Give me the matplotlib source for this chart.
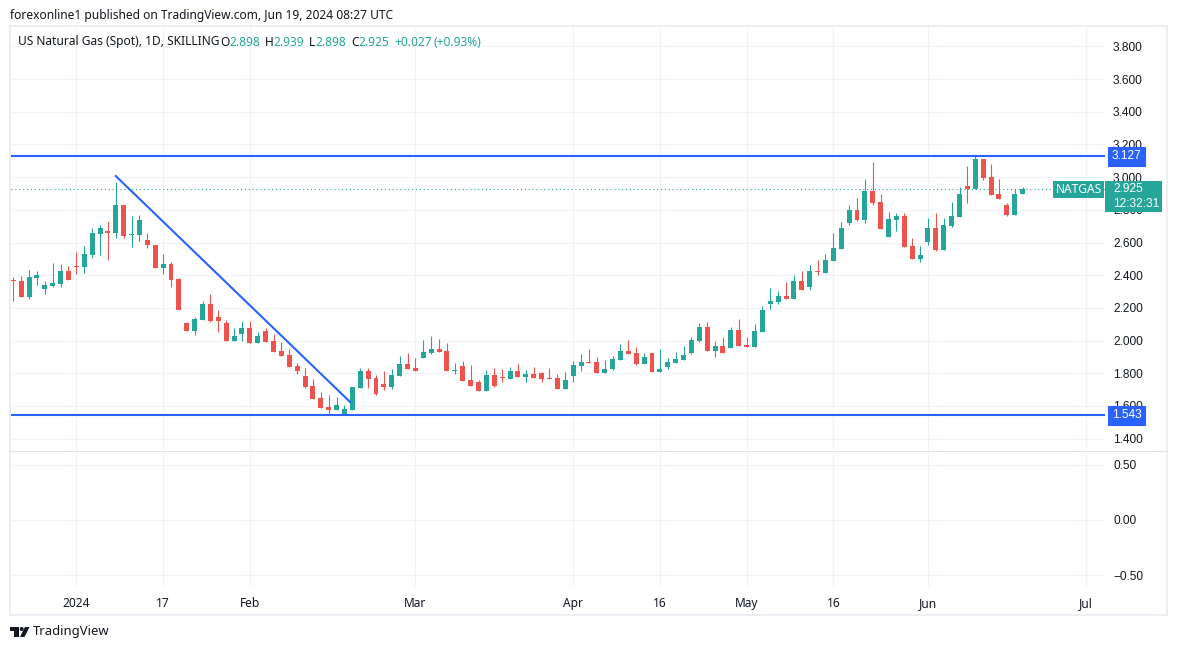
import matplotlib
matplotlib.use('Agg')
import matplotlib.pyplot as plt
from matplotlib.patches import Rectangle, Polygon, Circle
from matplotlib.transforms import Affine2D

# daily candles
opens = [2.372, 2.365, 2.267, 2.384, 2.316, 2.335, 2.347, 2.427, 2.457, 2.451,
         2.525, 2.653, 2.672, 2.659, 2.831, 2.647, 2.647, 2.616, 2.586, 2.445,
         2.469, 2.378, 2.108, 2.059, 2.127, 2.225, 2.145, 2.108, 2.000, 2.043,
         2.080, 1.988, 2.061, 2.000, 1.939, 1.914, 1.847, 1.786, 1.724, 1.651,
         1.596, 1.578, 1.547, 1.578, 1.712, 1.816, 1.773, 1.737, 1.718, 1.786,
         1.859, 1.835, 1.896, 1.927, 1.951, 1.939, 1.816, 1.847, 1.761, 1.749,
         1.694, 1.792, 1.780, 1.767, 1.816, 1.780, 1.798, 1.804, 1.773, 1.773,
         1.706, 1.786, 1.847, 1.871, 1.871, 1.804, 1.829, 1.884, 1.939, 1.927,
         1.859, 1.927, 1.810, 1.841, 1.865, 1.884, 1.927, 2.000, 2.086, 1.939,
         1.969, 1.957, 2.067, 1.975, 1.963, 2.055, 2.226, 2.239, 2.275, 2.257,
         2.367, 2.330, 2.428, 2.416, 2.490, 2.563, 2.718, 2.798, 2.737, 2.914,
         2.847, 2.633, 2.737, 2.761, 2.577, 2.498, 2.602, 2.688, 2.553, 2.700,
         2.755, 2.945, 2.927, 3.110, 3.000, 2.896, 2.829, 2.767, 2.898]
highs = [2.388, 2.396, 2.433, 2.427, 2.365, 2.476, 2.469, 2.457, 2.543, 2.580,
         2.690, 2.708, 2.733, 2.972, 2.831, 2.763, 2.769, 2.659, 2.586, 2.531,
         2.482, 2.384, 2.114, 2.145, 2.243, 2.286, 2.188, 2.127, 2.078, 2.122,
         2.122, 2.055, 2.080, 2.043, 1.994, 1.951, 1.865, 1.835, 1.767, 1.688,
         1.669, 1.657, 1.608, 1.718, 1.835, 1.835, 1.792, 1.816, 1.829, 1.908,
         1.927, 1.896, 2.006, 2.031, 2.012, 1.988, 1.865, 1.878, 1.853, 1.761,
         1.822, 1.835, 1.829, 1.841, 1.859, 1.822, 1.841, 1.810, 1.835, 1.798,
         1.810, 1.878, 1.920, 1.951, 1.902, 1.884, 1.908, 1.982, 2.006, 1.963,
         1.927, 1.927, 1.951, 1.896, 1.933, 1.969, 2.024, 2.110, 2.116, 2.000,
         2.024, 2.086, 2.134, 2.024, 2.104, 2.214, 2.324, 2.306, 2.361, 2.404,
         2.428, 2.465, 2.496, 2.532, 2.661, 2.728, 2.829, 2.871, 2.988, 3.092,
         2.896, 2.786, 2.780, 2.780, 2.626, 2.577, 2.749, 2.780, 2.749, 2.847,
         2.939, 3.067, 3.130, 3.110, 3.080, 2.988, 2.841, 2.926, 2.939]
lows = [2.245, 2.267, 2.255, 2.341, 2.286, 2.329, 2.329, 2.372, 2.408, 2.414,
        2.506, 2.525, 2.494, 2.629, 2.629, 2.574, 2.610, 2.567, 2.445, 2.408,
        2.329, 2.188, 2.059, 2.035, 2.127, 2.114, 2.053, 2.000, 2.000, 2.000,
        1.988, 1.988, 1.994, 1.933, 1.908, 1.841, 1.798, 1.712, 1.645, 1.590,
        1.547, 1.578, 1.547, 1.578, 1.712, 1.712, 1.669, 1.700, 1.706, 1.786,
        1.829, 1.816, 1.896, 1.920, 1.933, 1.816, 1.798, 1.755, 1.724, 1.694,
        1.694, 1.718, 1.749, 1.767, 1.780, 1.749, 1.773, 1.749, 1.767, 1.706,
        1.706, 1.749, 1.816, 1.865, 1.804, 1.804, 1.822, 1.884, 1.920, 1.853,
        1.859, 1.810, 1.810, 1.829, 1.865, 1.884, 1.920, 1.994, 1.939, 1.902,
        1.926, 1.957, 1.969, 1.963, 1.963, 2.055, 2.196, 2.226, 2.257, 2.257,
        2.312, 2.312, 2.404, 2.416, 2.490, 2.563, 2.706, 2.731, 2.718, 2.829,
        2.682, 2.633, 2.669, 2.571, 2.498, 2.480, 2.584, 2.547, 2.553, 2.694,
        2.755, 2.841, 2.925, 2.982, 2.890, 2.865, 2.761, 2.767, 2.898]
closes = [2.365, 2.267, 2.390, 2.402, 2.341, 2.353, 2.427, 2.372, 2.451, 2.531,
          2.659, 2.690, 2.659, 2.831, 2.641, 2.653, 2.739, 2.586, 2.445, 2.469,
          2.372, 2.188, 2.059, 2.133, 2.225, 2.120, 2.120, 2.000, 2.029, 2.080,
          1.988, 2.031, 1.994, 1.933, 1.908, 1.841, 1.816, 1.718, 1.645, 1.590,
          1.578, 1.608, 1.584, 1.718, 1.816, 1.767, 1.676, 1.718, 1.792, 1.859,
          1.829, 1.816, 1.933, 1.951, 1.933, 1.816, 1.822, 1.755, 1.724, 1.694,
          1.792, 1.724, 1.773, 1.816, 1.780, 1.798, 1.773, 1.767, 1.767, 1.706,
          1.761, 1.853, 1.871, 1.865, 1.804, 1.829, 1.890, 1.939, 1.920, 1.859,
          1.902, 1.810, 1.829, 1.871, 1.890, 1.914, 2.006, 2.086, 1.939, 1.969,
          1.926, 2.067, 1.969, 1.963, 2.061, 2.190, 2.245, 2.275, 2.257, 2.367,
          2.312, 2.428, 2.422, 2.496, 2.569, 2.692, 2.798, 2.737, 2.914, 2.841,
          2.682, 2.743, 2.761, 2.571, 2.498, 2.522, 2.688, 2.553, 2.706, 2.761,
          2.896, 2.927, 3.110, 2.994, 2.890, 2.865, 2.767, 2.896, 2.925]

support = 1.543
resistance = 3.127
last_price = 2.925
trend_x = [13, 42.7]
trend_y = [3.007, 1.625]

price_ticks = [1.4, 1.6, 1.8, 2.0, 2.2, 2.4, 2.6, 2.8, 3.0, 3.2, 3.4, 3.6, 3.8]
osc_ticks = [-0.5, 0.0, 0.5]
osc_labels = ['\u22120.50', '0.00', '0.50']
date_ticks = [8, 19, 30, 51, 71, 82, 93, 104, 116, 136]
date_labels = ['2024', '17', 'Feb', 'Mar', 'Apr', '16', 'May', '16', 'Jun', 'Jul']

UP = '#26a69a'
DOWN = '#ef5350'
BLUE = '#2962ff'
INK = '#131722'
GRID = '#f0f3fa'
W, H = 1177, 650
TEXT_FONT = 'Noto Sans'
NUM_FONT = 'Liberation Sans'
FS = 8.6

fig = plt.figure(figsize=(W / 100, H / 100), dpi=100, facecolor='white')
# overlays are placed in screen pixels, y going down
px = Affine2D().scale(1 / W, -1 / H).translate(0, 1) + fig.transFigure


def pane(top, bottom):
    return fig.add_axes([11 / W, 1 - bottom / H, (1105 - 11) / W, (bottom - top) / H])


ax = pane(27, 450)
ax2 = pane(451, 587)

n = len(closes)
for a in (ax, ax2):
    a.set_xlim(-0.29, 138.45)
    a.yaxis.tick_right()
    a.grid(True, color=GRID, lw=0.8)
    a.set_axisbelow(True)
    a.tick_params(length=0, labelsize=FS, labelcolor=INK, pad=5.8)
    a.set_xticks(date_ticks)
    for s in a.spines.values():
        s.set_visible(False)

ax.set_ylim(1.3305, 3.919)
ax.set_yticks(price_ticks)
ax.set_yticklabels(['%.3f' % p for p in price_ticks], family=NUM_FONT)
ax.tick_params(axis='x', labelbottom=False)

ax2.set_ylim(-0.609, 0.627)
ax2.set_yticks(osc_ticks)
ax2.set_yticklabels(osc_labels, family=NUM_FONT)
ax2.set_xticklabels(date_labels, family=TEXT_FONT)
ax2.tick_params(axis='x', pad=7)
ax2.get_xticklabels()[0].set_fontweight('bold')

# candles
for i in range(n):
    col = UP if closes[i] >= opens[i] else DOWN
    ax.vlines(i, lows[i], highs[i], color=col, lw=0.8, zorder=3)
    lo = min(opens[i], closes[i])
    ax.bar(i, max(abs(closes[i] - opens[i]), 0.006), bottom=lo, width=0.63, color=col, lw=0, zorder=3)

ax.axhline(last_price, color=UP, lw=0.8, ls=(0, (1, 2.5)), zorder=2)
ax.axhline(resistance, color=BLUE, lw=1.5, zorder=4)
ax.axhline(support, color=BLUE, lw=1.5, zorder=4)
ax.plot(trend_x, trend_y, color=BLUE, lw=1.5, zorder=4)

# price tags on the right scale
for level in (resistance, support):
    ax.annotate('%.3f' % level, xy=(1, level), xycoords=ax.get_yaxis_transform(),
                xytext=(7, 0), textcoords='offset pixels', color='white', va='center',
                family=NUM_FONT, fontsize=FS, annotation_clip=False, zorder=6,
                bbox=dict(boxstyle='square,pad=0.3', fc=BLUE, ec=BLUE, lw=0.8))

fig.add_artist(Rectangle((1105, 181), 57, 31, transform=px, fc=UP, ec='none', zorder=5))
fig.add_artist(Rectangle((1053, 181), 51, 17, transform=px, fc=UP, ec='none', zorder=5))
fig.text(1113, 189.5, '%.3f' % last_price, transform=px, color='white', family=NUM_FONT,
         fontsize=FS, va='center', zorder=6)
fig.text(1113, 204, '12:32:31', transform=px, color='white', family=NUM_FONT,
         fontsize=FS, va='center', zorder=6)
fig.text(1078.5, 189.5, 'NATGAS', transform=px, color='white', family=TEXT_FONT,
         fontsize=FS, va='center', ha='center', zorder=6)

# outer frame and pane separator
fig.add_artist(Rectangle((10, 26), 1157, 589, transform=px, fc='none', ec='#eceef4', lw=1.4, zorder=3))
fig.add_artist(plt.Line2D([10, 1167], [450.5, 450.5], transform=px, color='#e0e3eb', lw=0.8, zorder=3))

# header and legend
fig.text(10, 15, 'forexonline1 published on TradingView.com, Jun 19, 2024 08:27 UTC',
         transform=px, color=INK, family=TEXT_FONT, fontsize=FS, va='center')
fig.text(18, 42, 'US Natural Gas (Spot), 1D, SKILLING', transform=px, color=INK,
         family=TEXT_FONT, fontsize=FS, va='center')
for x, txt, col in [(220, 'O', INK), (229, '2.898', UP), (265, 'H', INK), (273, '2.939', UP),
                    (309, 'L', INK), (315, '2.898', UP), (351, 'C', INK), (358, '2.925', UP),
                    (394, '+0.027', UP), (433, '(+0.93%)', UP)]:
    fig.text(x, 42, txt, transform=px, color=col, family=TEXT_FONT, fontsize=FS, va='center')

# TradingView mark
for pts in ([(10, 627), (18.5, 627), (18.5, 637), (14, 637), (14, 630.5), (10, 630.5)],
            [(25, 627), (29.5, 627), (24.5, 637), (20, 637)]):
    fig.add_artist(Polygon(pts, closed=True, transform=px, fc=INK, ec='none'))
fig.add_artist(Circle((21.7, 629), 2, transform=px, fc=INK, ec='none'))
fig.text(33, 632, 'TradingView', transform=px, color=INK, family=TEXT_FONT, fontsize=9.4, va='center')

fig.savefig('out.png', dpi=100, facecolor='white')
